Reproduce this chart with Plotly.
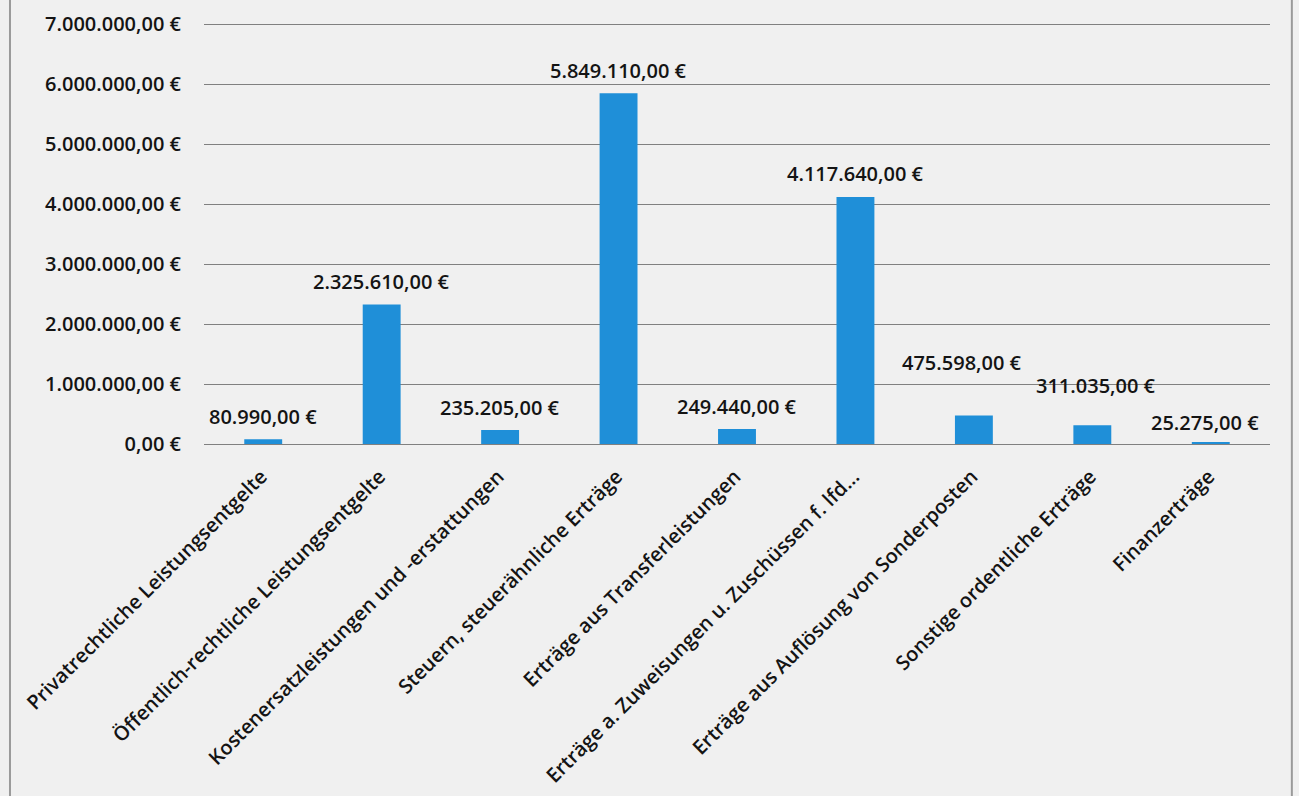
import plotly.graph_objects as go

categories = [
    "Privatrechtliche Leistungsentgelte",
    "Öffentlich-rechtliche Leistungsentgelte",
    "Kostenersatzleistungen und -erstattungen",
    "Steuern, steuerähnliche Erträge",
    "Erträge aus Transferleistungen",
    "Erträge a. Zuweisungen u. Zuschüssen f. lfd...",
    "Erträge aus Auflösung von Sonderposten",
    "Sonstige ordentliche Erträge",
    "Finanzerträge",
]
values = [80990, 2325610, 235205, 5849110, 249440, 4117640, 475598, 311035, 25275]
tick_values = [0, 1000000, 2000000, 3000000, 4000000, 5000000, 6000000, 7000000]


def eur(v):
    s = f"{v:,.2f}"
    s = s.replace(",", "X").replace(".", ",").replace("X", ".")
    return s + " €"


tick_text = [eur(v) for v in tick_values]
label_text = [eur(v) for v in values]
# styling: vertical / horizontal offset (px) of each data label's centre from its bar top
label_shift = [23, 23, 22, 23, 23, 24, 53, 40, 20]
label_xshift = [0, 0, 0, 0, 0, 0, -12, 4, -6]

bar_color = "#1f8fd8"
font_family = "Open Sans, DejaVu Sans, sans-serif"
text_color = "#141414"

fig = go.Figure()
fig.add_trace(go.Bar(
    x=categories,
    y=values,
    marker=dict(color=bar_color, line=dict(width=0)),
    hoverinfo="skip",
))

for c, v, t, dy, dx in zip(categories, values, label_text, label_shift, label_xshift):
    fig.add_annotation(
        x=c, y=v, text=t, showarrow=False,
        yanchor="middle", xanchor="center",
        yshift=dy, xshift=dx,
        font=dict(family=font_family, size=20, color=text_color, weight=600),
    )

fig.update_layout(
    width=1299, height=796,
    margin=dict(l=204, r=29, t=23, b=352),
    paper_bgcolor="#f0f0f0",
    plot_bgcolor="#f0f0f0",
    bargap=0.68,
    showlegend=False,
    font=dict(family=font_family, size=20, color=text_color),
    xaxis=dict(
        tickangle=-45,
        tickfont=dict(family=font_family, size=20, color=text_color, weight=600),
        showgrid=False,
        showline=False,
        ticks="",
        ticklabelshift=-2,
        ticklabelstandoff=16,
        automargin=False,
    ),
    yaxis=dict(
        range=[0, 7020000],
        tickvals=tick_values,
        ticktext=tick_text,
        tickfont=dict(family=font_family, size=20, color=text_color, weight=600),
        showgrid=True,
        gridcolor="#808080",
        gridwidth=1,
        zeroline=True,
        zerolinecolor="#808080",
        zerolinewidth=1,
        ticks="",
        ticklabelstandoff=22,
        automargin=False,
    ),
    shapes=[
        dict(type="line", xref="paper", yref="paper", x0=-0.182, x1=-0.182, y0=-1.0, y1=1.06,
             line=dict(color="#9a9a9a", width=2)),
        dict(type="line", xref="paper", yref="paper", x0=1.0205, x1=1.0205, y0=-1.0, y1=1.06,
             line=dict(color="#9a9a9a", width=2)),
    ],
)

fig.write_html("out.html")
